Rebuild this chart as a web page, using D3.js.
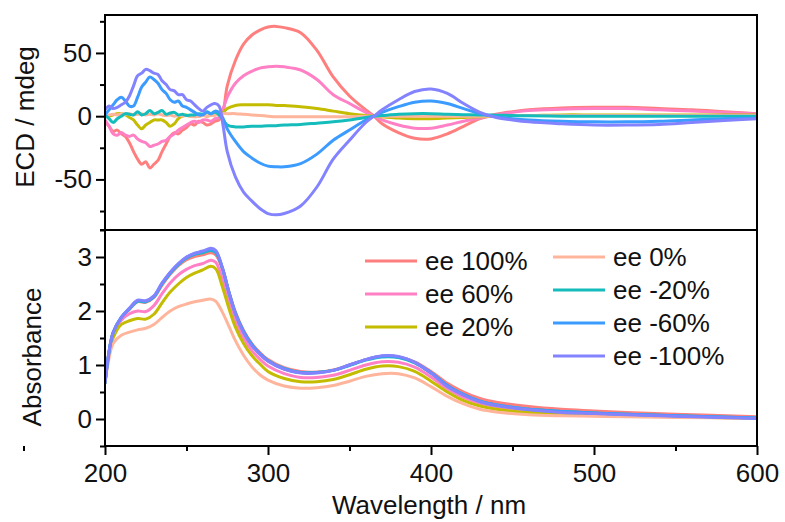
<!DOCTYPE html>
<html>
<head>
<meta charset="utf-8">
<script src="https://cdn.jsdelivr.net/npm/d3@7"></script>
<style>
    html, body { margin: 0; padding: 0; background: #fff; }
    svg { display: block; font-family: Arial, "Liberation Sans", sans-serif; }
    .tick text { font-size: 26px; fill: #111; }
    .title { font-size: 26px; fill: #111; }
</style>
</head>
<body>
<svg id="chart" width="785" height="522"></svg>
<script>
var seriesNames = ['ee 100%', 'ee 60%', 'ee 20%', 'ee 0%', 'ee -20%', 'ee -60%', 'ee -100%'];

// ECD spectra (mdeg)
var cdWavelength = [200, 202.5, 205, 207.5, 210, 212.5, 215, 217.5, 220, 222.5, 225, 227.5, 230, 232.5, 235, 237.5,
    240, 242.5, 245, 247.5, 250, 252.5, 255, 257.5, 260, 262.5, 265, 267.5, 270, 272.5, 275,
    280, 285, 290, 295, 300, 305, 310, 320, 330, 340, 350, 360, 365, 370,
    380, 390, 400, 410, 420, 430, 440, 450, 460, 480, 500, 520, 540, 560, 580, 600];
var cdEe100 = [-4, -8, -12, -11, -14, -16, -21, -28, -34, -38, -36, -41, -38, -35, -28, -22,
    -16, -13, -14, -11, -9, -6, -7, -4, -5, -7, -6, -4, -3, 4, 24,
    44, 57, 64, 68, 70.5, 71, 70, 66, 52, 31, 16, 5, 0, -6,
    -13, -17.5, -18, -14, -8, -2, 1.5, 3.5, 5, 6.5, 7, 7, 6, 5, 3.5, 2];
var cdEe60 = [-3, -8, -14, -15, -13, -15, -16, -15, -18, -20, -21, -24, -23, -22, -20, -19,
    -16, -14, -11, -9, -7, -5, -4, -5, -3, -3, -4, -2, -1, 6, 15,
    26, 32, 35.5, 38, 39, 39.5, 39, 36.5, 29, 17, 10, 3, 0, -3,
    -7, -9.5, -9.5, -7, -4, -1.5, 1, 3, 4.5, 5.5, 6, 6, 5, 4, 3, 2];
var cdEe20 = [0, 0, 1, 2, 2, 1, -1, -3, -7, -10, -7, -5, -3, -3, -3, -5,
    -8, -6, -2, 0, 1, 0, 1, 0, 1, 0, 1, 1, 2, 3, 6,
    8.5, 9, 9, 9, 9, 8.5, 8.5, 7.5, 6, 4, 2, 0.5, 0, -0.5,
    -1.5, -2, -2, -1.5, -1, -0.5, 0, 0.5, 0.5, 1, 1, 1, 1, 1, 1, 1];
var cdEe0 = [0, 1, 1.5, 1, 2, 1.5, 2, 1, 1.5, 2, 1, 1.5, 1, 2, 1, 0.5,
    1, 0, 0.5, 0, 0.5, 0, -0.5, 0, 0.5, 0, 0.5, 1, 1.5, 2, 2,
    2, 1.5, 1, 0.5, 0, -0.5, -0.5, -0.5, -0.5, -0.5, -0.5, 0, 0, 0,
    0, 0, 0, 0, 0, 0, 0, 0.5, 0.5, 0.5, 0.5, 0.5, 0.5, 0.5, 0.5, 0.5];
var cdEeM20 = [1, -2, -5, -2, 0, 2, 1.5, 1, 3.5, 1, 2, 4.5, 2, 3, 4.5, 1.5,
    2.5, 3, 1, 1.5, 0.5, 1, 1, 2, 1.5, 3.5, 2, 3, 1, -3, -7,
    -8.5, -8.5, -8, -8, -7.5, -7.5, -7, -6.5, -5.5, -4.5, -3, -1, 0, 0.5,
    1.5, 2, 2, 1.5, 1.2, 1, 0.8, 0.5, 0.3, 0, 0, 0, 0, 0, 0, 0];
var cdEeM60 = [1, 5, 9, 13, 15, 12, 8, 8, 15, 23, 27, 31, 29, 26, 21, 18,
    13, 11, 12, 8, 7, 5, 3, 1, 1, 3, 2, 4, 3, -2, -10,
    -20, -28, -33, -37, -39.5, -40, -40, -37.5, -30, -19, -11, -3, 0, 3,
    7.5, 11, 12, 10, 6, 2, -0.5, -2, -3, -4, -4.5, -4.5, -4, -3, -2, -1.5];
var cdEeM100 = [5, 8, 6, 7, 9, 11, 16, 24, 32, 34, 37, 36, 34, 33, 28, 25,
    21, 20, 17, 17, 13, 12, 9, 6, 4, 7, 9, 10, 8, -8, -28,
    -48, -60, -67, -73, -77, -78, -77, -71, -56, -34, -19, -5, 0, 5,
    13, 19.5, 21.5, 18, 10, 3, -1, -3, -4.5, -6, -7, -7, -6.5, -5, -3.5, -2];

// UV-vis absorbance
var absWavelength = [200, 202, 205, 210, 215, 220, 225, 230, 235, 240, 245, 250, 255, 260, 265, 268, 272, 276, 280, 285,
    290, 295, 300, 310, 320, 330, 340, 350, 360, 370, 380, 390, 400, 410, 420, 430, 440, 460, 480, 500,
    520, 550, 600];
var absEe100 = [0.66, 1.15, 1.6, 1.87, 2.03, 2.17, 2.16, 2.25, 2.48, 2.68, 2.84, 2.95, 3.01, 3.04, 3.08, 3.04, 2.78, 2.36, 1.98, 1.64,
    1.4, 1.23, 1.1, 0.95, 0.88, 0.87, 0.91, 1.0, 1.1, 1.16, 1.15, 1.06, 0.88, 0.66, 0.5, 0.38, 0.31, 0.23, 0.18, 0.15,
    0.12, 0.09, 0.04];
var absEe60 = [0.66, 1.15, 1.58, 1.83, 1.95, 2.0, 1.99, 2.1, 2.32, 2.52, 2.67, 2.77, 2.84, 2.88, 2.94, 2.9, 2.6, 2.2, 1.82, 1.5,
    1.27, 1.11, 0.98, 0.84, 0.77, 0.77, 0.81, 0.9, 1.0, 1.06, 1.05, 0.96, 0.78, 0.56, 0.4, 0.29, 0.23, 0.16, 0.12, 0.1,
    0.08, 0.05, 0.02];
var absEe20 = [0.66, 1.12, 1.5, 1.75, 1.82, 1.86, 1.85, 1.94, 2.15, 2.35, 2.5, 2.62, 2.7, 2.76, 2.83, 2.78, 2.45, 2.05, 1.7, 1.4,
    1.18, 1.02, 0.88, 0.75, 0.69, 0.69, 0.73, 0.82, 0.92, 0.98, 0.97, 0.88, 0.7, 0.5, 0.34, 0.24, 0.18, 0.12, 0.09, 0.07,
    0.06, 0.04, 0.01];
var absEe0 = [0.66, 1.05, 1.4, 1.55, 1.61, 1.65, 1.68, 1.75, 1.88, 2.0, 2.08, 2.13, 2.17, 2.2, 2.22, 2.18, 1.98, 1.72, 1.45, 1.18,
    0.97, 0.82, 0.72, 0.61, 0.57, 0.58, 0.62, 0.7, 0.79, 0.84, 0.84, 0.76, 0.6, 0.42, 0.28, 0.18, 0.13, 0.08, 0.06, 0.05,
    0.04, 0.03, 0.01];
var absEeM20 = [0.66, 1.15, 1.6, 1.88, 2.04, 2.18, 2.17, 2.26, 2.5, 2.7, 2.86, 2.98, 3.05, 3.08, 3.12, 3.08, 2.79, 2.35, 1.96, 1.62,
    1.38, 1.21, 1.08, 0.93, 0.86, 0.86, 0.9, 0.99, 1.09, 1.15, 1.14, 1.04, 0.85, 0.62, 0.45, 0.33, 0.26, 0.18, 0.14, 0.11,
    0.09, 0.06, 0.02];
var absEeM60 = [0.66, 1.15, 1.6, 1.88, 2.05, 2.19, 2.18, 2.27, 2.51, 2.71, 2.87, 2.99, 3.06, 3.1, 3.14, 3.1, 2.8, 2.35, 1.96, 1.62,
    1.38, 1.21, 1.08, 0.93, 0.86, 0.86, 0.9, 1.0, 1.1, 1.16, 1.15, 1.05, 0.86, 0.62, 0.45, 0.33, 0.26, 0.18, 0.14, 0.11,
    0.09, 0.06, 0.02];
var absEeM100 = [0.66, 1.15, 1.6, 1.88, 2.05, 2.2, 2.19, 2.28, 2.52, 2.72, 2.88, 3.0, 3.07, 3.11, 3.16, 3.12, 2.8, 2.35, 1.95, 1.6,
    1.36, 1.2, 1.07, 0.92, 0.85, 0.85, 0.9, 1.0, 1.1, 1.17, 1.16, 1.05, 0.85, 0.6, 0.44, 0.32, 0.25, 0.17, 0.12, 0.1,
    0.08, 0.05, 0.01];

var xTicks = [200, 300, 400, 500, 600];
var cdTicks = [-50, 0, 50];
var absTicks = [0, 1, 2, 3];

var cdSeries = [cdEe100, cdEe60, cdEe20, cdEe0, cdEeM20, cdEeM60, cdEeM100];
var absSeries = [absEe100, absEe60, absEe20, absEe0, absEeM20, absEeM60, absEeM100];
var colors = ['#ff7f7f', '#ff80c4', '#c4bc00', '#ffb59b', '#14bdbb', '#3b9bff', '#8383ff'];

var svg = d3.select('#chart'),
    left = 105, right = 757,
    topY = 15, midY = 230, bottomY = 446,
    fmt = function (d) { return String(d); };

var x = d3.scaleLinear().domain([200, 600]).range([left, right]);
var yCd = d3.scaleLinear().domain([-90, 80]).range([midY, topY]);
var yAbs = d3.scaleLinear().domain([-0.5, 3.5]).range([bottomY, midY]);

function minorBetween(ticks, step) {
    var out = [];
    ticks.forEach(function (t) { out.push(t + step); });
    out.push(ticks[0] - step);
    return out;
}

// clip each panel so curves stay inside the frame
var defs = svg.append('defs');
defs.append('clipPath').attr('id', 'clipTop')
    .append('rect').attr('x', left).attr('y', topY).attr('width', right - left).attr('height', midY - topY);
defs.append('clipPath').attr('id', 'clipBottom')
    .append('rect').attr('x', left).attr('y', midY).attr('width', right - left).attr('height', bottomY - midY);

function drawPanel(clipId, xs, seriesList, yScale) {
    var line = d3.line()
        .x(function (d) { return x(d[0]); })
        .y(function (d) { return yScale(d[1]); })
        .curve(d3.curveCatmullRom.alpha(0.5));

    var g = svg.append('g').attr('clip-path', 'url(#' + clipId + ')');
    seriesList.forEach(function (vals, i) {
        g.append('path')
            .datum(xs.map(function (w, j) { return [w, vals[j]]; }))
            .attr('d', line)
            .attr('fill', 'none')
            .attr('stroke', colors[i])
            .attr('stroke-width', 3)
            .attr('stroke-linejoin', 'round');
    });
}

drawPanel('clipTop', cdWavelength, cdSeries, yCd);
drawPanel('clipBottom', absWavelength, absSeries, yAbs);

function styleAxis(g) {
    g.select('.domain').remove();
    g.selectAll('.tick line').attr('stroke', '#000').attr('stroke-width', 2);
}

// y axes
svg.append('g').attr('transform', 'translate(' + left + ',0)')
    .call(d3.axisLeft(yCd).tickValues(cdTicks).tickFormat(fmt).tickSize(9).tickPadding(4))
    .call(styleAxis);
svg.append('g').attr('transform', 'translate(' + left + ',0)')
    .call(d3.axisLeft(yCd).tickValues(minorBetween(cdTicks, 25)).tickSize(5).tickFormat(''))
    .call(styleAxis);
svg.append('g').attr('transform', 'translate(' + left + ',0)')
    .call(d3.axisLeft(yAbs).tickValues(absTicks).tickFormat(fmt).tickSize(9).tickPadding(4))
    .call(styleAxis);
svg.append('g').attr('transform', 'translate(' + left + ',0)')
    .call(d3.axisLeft(yAbs).tickValues(minorBetween(absTicks, 0.5)).tickSize(5).tickFormat(''))
    .call(styleAxis);

// x axis
svg.append('g').attr('transform', 'translate(0,' + bottomY + ')')
    .call(d3.axisBottom(x).tickValues(xTicks).tickFormat(fmt).tickSize(9).tickPadding(9))
    .call(styleAxis);
svg.append('g').attr('transform', 'translate(0,' + bottomY + ')')
    .call(d3.axisBottom(x).tickValues(minorBetween(xTicks.slice(0, -1), 50)).tickSize(5).tickFormat(''))
    .call(styleAxis);

// frames
svg.append('rect')
    .attr('x', left).attr('y', topY)
    .attr('width', right - left).attr('height', bottomY - topY)
    .attr('fill', 'none').attr('stroke', '#000').attr('stroke-width', 2);
svg.append('line')
    .attr('x1', left - 5).attr('x2', right)
    .attr('y1', midY).attr('y2', midY)
    .attr('stroke', '#000').attr('stroke-width', 2);

// axis titles
svg.append('text').attr('class', 'title')
    .attr('transform', 'translate(34,117) rotate(-90)')
    .attr('text-anchor', 'middle')
    .text('ECD / mdeg');
svg.append('text').attr('class', 'title')
    .attr('transform', 'translate(41,357) rotate(-90)')
    .attr('text-anchor', 'middle')
    .text('Absorbance');
svg.append('text').attr('class', 'title')
    .attr('x', 429).attr('y', 514)
    .attr('text-anchor', 'middle')
    .text('Wavelength / nm');

// legend, two columns
var legend = svg.append('g');
seriesNames.forEach(function (name, i) {
    var col = i < 3 ? 0 : 1,
        row = i < 3 ? i : i - 3,
        lx = col === 0 ? 365 : 553,
        ly = (col === 0 ? 261 : 257) + row * 33;

    legend.append('line')
        .attr('x1', lx).attr('x2', lx + 52)
        .attr('y1', ly).attr('y2', ly)
        .attr('stroke', colors[i]).attr('stroke-width', 3);
    legend.append('text').attr('class', 'title')
        .attr('x', lx + 60).attr('y', ly + 9)
        .text(name);
});
</script>
</body>
</html>
